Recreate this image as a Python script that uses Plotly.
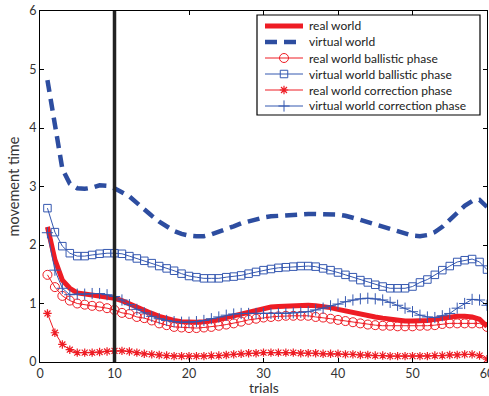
import plotly.graph_objects as go

trials = list(range(1, 61))

real_world = [2.31, 1.75, 1.40, 1.26, 1.18, 1.16, 1.15, 1.14, 1.12, 1.09,
              1.05, 0.99, 0.93, 0.88, 0.83, 0.78, 0.74, 0.71, 0.69, 0.68,
              0.68, 0.69, 0.70, 0.72, 0.76, 0.79, 0.83, 0.86, 0.89, 0.92,
              0.94, 0.95, 0.96, 0.97, 0.97, 0.97, 0.96, 0.95, 0.93, 0.90,
              0.87, 0.85, 0.82, 0.79, 0.77, 0.75, 0.73, 0.71, 0.70, 0.70,
              0.70, 0.71, 0.73, 0.75, 0.77, 0.78, 0.78, 0.77, 0.73, 0.61]

virtual_world = [4.82, 4.00, 3.30, 3.05, 2.97, 2.96, 2.98, 3.02, 3.01, 2.97,
                 2.91, 2.83, 2.72, 2.60, 2.50, 2.40, 2.31, 2.24, 2.19, 2.16,
                 2.15, 2.15, 2.18, 2.22, 2.27, 2.32, 2.37, 2.41, 2.44, 2.47,
                 2.49, 2.50, 2.51, 2.52, 2.53, 2.53, 2.53, 2.53, 2.53, 2.52,
                 2.50, 2.47, 2.43, 2.39, 2.35, 2.31, 2.27, 2.23, 2.19, 2.16,
                 2.15, 2.17, 2.22, 2.31, 2.43, 2.56, 2.67, 2.75, 2.77, 2.65]

real_ballistic = [1.49, 1.28, 1.13, 1.05, 1.00, 0.98, 0.96, 0.95, 0.92, 0.89,
                  0.84, 0.82, 0.77, 0.75, 0.71, 0.66, 0.63, 0.60, 0.59, 0.58,
                  0.58, 0.59, 0.60, 0.62, 0.64, 0.66, 0.69, 0.72, 0.74, 0.76,
                  0.77, 0.78, 0.79, 0.79, 0.79, 0.79, 0.77, 0.76, 0.74, 0.72,
                  0.70, 0.68, 0.66, 0.64, 0.63, 0.62, 0.62, 0.61, 0.61, 0.61,
                  0.62, 0.62, 0.63, 0.65, 0.66, 0.66, 0.66, 0.66, 0.66, 0.60]

virtual_ballistic = [2.63, 2.22, 1.98, 1.86, 1.81, 1.81, 1.83, 1.85, 1.86, 1.86,
                     1.85, 1.81, 1.77, 1.73, 1.69, 1.64, 1.60, 1.56, 1.51, 1.47,
                     1.45, 1.43, 1.43, 1.43, 1.45, 1.46, 1.48, 1.51, 1.54, 1.57,
                     1.59, 1.61, 1.62, 1.63, 1.64, 1.64, 1.63, 1.60, 1.57, 1.53,
                     1.49, 1.45, 1.40, 1.36, 1.32, 1.29, 1.26, 1.26, 1.26, 1.29,
                     1.36, 1.41, 1.49, 1.57, 1.64, 1.71, 1.74, 1.76, 1.71, 1.58]

real_correction = [0.83, 0.50, 0.30, 0.21, 0.16, 0.16, 0.16, 0.17, 0.18, 0.19,
                   0.19, 0.18, 0.16, 0.14, 0.13, 0.12, 0.11, 0.10, 0.10, 0.10,
                   0.10, 0.10, 0.11, 0.11, 0.12, 0.13, 0.14, 0.15, 0.15, 0.16,
                   0.16, 0.16, 0.16, 0.16, 0.15, 0.15, 0.15, 0.14, 0.14, 0.14,
                   0.13, 0.13, 0.12, 0.12, 0.11, 0.11, 0.10, 0.10, 0.10, 0.10,
                   0.10, 0.10, 0.11, 0.11, 0.12, 0.12, 0.13, 0.13, 0.11, 0.05]

virtual_correction = [2.21, 1.57, 1.26, 1.15, 1.16, 1.16, 1.17, 1.17, 1.15, 1.12,
                      1.06, 0.98, 0.90, 0.84, 0.78, 0.74, 0.71, 0.69, 0.68, 0.68,
                      0.69, 0.71, 0.74, 0.77, 0.80, 0.82, 0.83, 0.83, 0.83, 0.83,
                      0.83, 0.83, 0.83, 0.84, 0.85, 0.86, 0.89, 0.92, 0.96, 0.99,
                      1.03, 1.06, 1.08, 1.09, 1.08, 1.06, 1.02, 0.97, 0.92, 0.86,
                      0.80, 0.77, 0.76, 0.79, 0.83, 0.92, 1.00, 1.07, 1.06, 0.97]

series_names = ["real world", "virtual world", "real world ballistic phase",
                "virtual world ballistic phase", "real world correction phase",
                "virtual world correction phase"]

x_ticks = [0, 10, 20, 30, 40, 50, 60]
y_ticks = [0, 1, 2, 3, 4, 5, 6]
marker_trial = 10

RED = "#ee1c24"
BLUE = "#2d4da0"
BLUE_T = "#3558b0"

styles = [
    dict(mode="lines", line=dict(color=RED, width=5), marker=None),
    dict(mode="lines", line=dict(color=BLUE, width=4.5, dash="12px,7px"), marker=None),
    dict(mode="lines+markers", line=dict(color=RED, width=1),
         marker=dict(symbol="circle-open", size=9, color=RED, line=dict(width=1, color=RED))),
    dict(mode="lines+markers", line=dict(color=BLUE_T, width=1),
         marker=dict(symbol="square-open", size=7.5, color=BLUE_T, line=dict(width=1, color=BLUE_T))),
    dict(mode="lines+markers", line=dict(color=RED, width=1),
         marker=dict(symbol="asterisk-open", size=7, color=RED, line=dict(width=1.2, color=RED))),
    dict(mode="lines+markers", line=dict(color=BLUE_T, width=1),
         marker=dict(symbol="cross-thin-open", size=8, color=BLUE_T, line=dict(width=1, color=BLUE_T))),
]
series_values = [real_world, virtual_world, real_ballistic, virtual_ballistic,
                 real_correction, virtual_correction]

fig = go.Figure()
for name, vals, st in zip(series_names, series_values, styles):
    kw = dict(x=trials, y=vals, mode=st["mode"], name=name, line=st["line"],
              showlegend=False)
    if st["marker"] is not None:
        kw["marker"] = st["marker"]
    fig.add_trace(go.Scatter(**kw))

fig.add_shape(type="line", xref="x", yref="paper", x0=marker_trial, x1=marker_trial,
              y0=0, y1=1, line=dict(color="#222222", width=3.5))

# ---- hand-built legend (paper coordinates) ----
PX_L, PX_R, PX_T, PX_B = 40, 487, 11, 362
def px(xp):
    return (xp - PX_L) / (PX_R - PX_L)
def py(yp):
    return (PX_B - yp) / (PX_B - PX_T)

fig.add_shape(type="rect", xref="paper", yref="paper",
              x0=px(257), x1=px(480), y0=py(115), y1=py(15),
              line=dict(color="black", width=1.2), fillcolor="white", layer="below")
row_y = [26, 42, 58, 74, 90, 106]
for i, (name, st) in enumerate(zip(series_names, styles)):
    yv = py(row_y[i])
    fig.add_trace(go.Scatter(x=[px(265), px(303)], y=[yv, yv], mode="lines",
                             line=st["line"], xaxis="x2", yaxis="y2",
                             showlegend=False, hoverinfo="skip"))
    if st["marker"] is not None:
        fig.add_trace(go.Scatter(x=[px(284)], y=[yv], mode="markers", marker=st["marker"],
                                 xaxis="x2", yaxis="y2", showlegend=False, hoverinfo="skip"))
    fig.add_annotation(x=px(307), y=yv, xref="paper", yref="paper", text=name,
                       showarrow=False, xanchor="left", yanchor="middle",
                       font=dict(size=12, color="#222222"))

# x-axis title placed as an annotation for exact position
fig.add_annotation(x=0.5, y=py(387), xref="paper", yref="paper", text="trials",
                   showarrow=False, xanchor="center", yanchor="middle", borderpad=0,
                   font=dict(size=14, color="#333333"))

axis_common = dict(showline=True, linecolor="black", linewidth=1, mirror="ticks",
                   ticks="inside", ticklen=4, tickcolor="black", showgrid=False,
                   zeroline=False, tickfont=dict(size=12.5, color="#333333"),
                   ticklabeloverflow="allow")

fig.update_layout(
    width=489, height=396,
    margin=dict(l=40, r=2, t=11, b=34),
    paper_bgcolor="white", plot_bgcolor="white",
    font=dict(family="Lato, Liberation Sans, sans-serif", color="#333333"),
    xaxis=dict(range=[0, 60], tickvals=x_ticks, automargin=False, **axis_common),
    yaxis=dict(range=[0, 6], tickvals=y_ticks,
               title=dict(text="movement time", font=dict(size=14.5), standoff=6),
               automargin=False, **axis_common),
    xaxis2=dict(range=[0, 1], overlaying="x", visible=False, anchor="y2"),
    yaxis2=dict(range=[0, 1], overlaying="y", visible=False, anchor="x2"),
    showlegend=False,
)

fig.write_html("out.html", config={"displayModeBar": False},
               post_script="document.body.style.margin='0px';document.body.style.padding='0px';")
